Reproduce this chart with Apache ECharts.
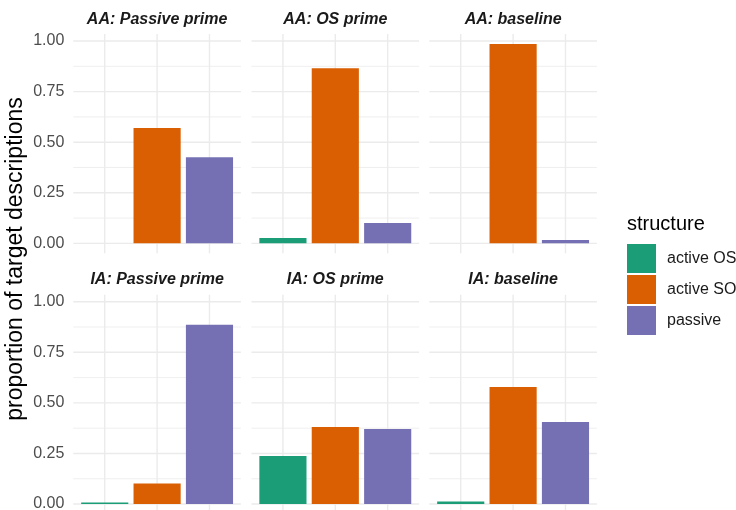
<!DOCTYPE html>
<html>
<head>
<meta charset="utf-8">
<script src="https://cdn.jsdelivr.net/npm/echarts@6/dist/echarts.min.js"></script>
<style>
  html, body { margin: 0; padding: 0; background: #ffffff; }
  #chart { width: 736px; height: 510px; }
</style>
</head>
<body>
<div id="chart"></div>
<script>
// Facet panels (row-major: AA row, then IA row)
const facets = ['AA: Passive prime', 'AA: OS prime', 'AA: baseline',
                'IA: Passive prime', 'IA: OS prime', 'IA: baseline'];
const structures = ['active OS', 'active SO', 'passive'];

// Proportion of target descriptions per facet, one array per structure
const activeOS = [0.000, 0.026, 0.000, 0.008, 0.237, 0.012];
const activeSO = [0.570, 0.866, 0.985, 0.101, 0.381, 0.579];
const passive  = [0.426, 0.100, 0.016, 0.886, 0.371, 0.406];

// Axis breaks
const yBreaks = [0, 0.25, 0.5, 0.75, 1.0];
const yMinorBreaks = [0.125, 0.375, 0.625, 0.875];
const xBreaks = [1, 2, 3];

const palette = ['#1B9E77', '#D95F02', '#7570B3'];
const valuesByStructure = [activeOS, activeSO, passive];

// Layout
const FONT = "'Liberation Sans', Arial, Helvetica, sans-serif";
const colLeft = [73.3, 251.5, 429.3];
const rowTop = [34.1, 294.8];
const panelW = 167.6;
const panelH = 219.2;
const gridColor = '#EBEBEB';
const majorWidth = 1.4;
const minorWidth = 0.8;

// Continuous scale padded by 5% of the data range, discrete by 0.6 units
const dataMax = Math.max(...activeOS, ...activeSO, ...passive);
const yMin = -0.05 * dataMax;
const yMax = dataMax * 1.05;
const xMin = 1 - 0.6;
const xMax = structures.length + 0.6;
const barPx = 0.9 * panelW / (xMax - xMin);

// Panel grid lines, placed through the panel's own scales
function gridLineSeries(i, values, vertical, width) {
  return {
    type: 'custom', xAxisIndex: i, yAxisIndex: i, silent: true, z: 1,
    animation: false,
    data: values.map(v => vertical ? [v, 0] : [0, v]),
    renderItem: (params, api) => {
      const v = vertical ? api.value(0) : api.value(1);
      const a = vertical ? api.coord([v, yMin]) : api.coord([xMin, v]);
      const b = vertical ? api.coord([v, yMax]) : api.coord([xMax, v]);
      return {
        type: 'line',
        shape: { x1: a[0], y1: a[1], x2: b[0], y2: b[1] },
        style: { stroke: gridColor, lineWidth: width }
      };
    }
  };
}

const grids = [], xAxes = [], yAxes = [], series = [], titles = [];

facets.forEach((name, i) => {
  const row = Math.floor(i / 3), col = i % 3;
  const left = colLeft[col], top = rowTop[row];
  grids.push({ left, top, width: panelW, height: panelH, containLabel: false, outerBoundsMode: 'none' });

  xAxes.push({
    type: 'value', gridIndex: i, min: xMin, max: xMax,
    axisLine: { show: false }, axisTick: { show: false },
    axisLabel: { show: false }, splitLine: { show: false }
  });

  yAxes.push({
    type: 'value', gridIndex: i, min: yMin, max: yMax, position: 'left',
    axisLine: { show: false }, axisTick: { show: false },
    axisLabel: {
      show: col === 0, customValues: yBreaks, margin: 9,
      color: '#4D4D4D', fontSize: 16, fontFamily: FONT,
      formatter: v => Number(v).toFixed(2)
    },
    splitLine: { show: false }
  });

  series.push(gridLineSeries(i, yMinorBreaks, false, minorWidth));
  series.push(gridLineSeries(i, yBreaks, false, majorWidth));
  series.push(gridLineSeries(i, xBreaks, true, majorWidth));

  structures.forEach((s, k) => {
    series.push({
      type: 'bar', name: s, xAxisIndex: i, yAxisIndex: i, z: 2,
      barWidth: barPx, barGap: '-100%',
      itemStyle: { color: palette[k] },
      emphasis: { disabled: true },
      animation: false,
      data: [[xBreaks[k], valuesByStructure[k][i]]]
    });
  });

  titles.push({
    text: name, left: left + panelW / 2, top: top - 23, textAlign: 'center', padding: 0,
    textStyle: { fontFamily: FONT, fontSize: 16, fontWeight: 'bold', fontStyle: 'italic', color: '#1A1A1A' }
  });
});

titles.push({
  text: 'structure', left: 627, top: 214, padding: 0,
  textStyle: { fontFamily: FONT, fontSize: 20, fontWeight: 'normal', color: '#000000' }
});

const chart = echarts.init(document.getElementById('chart'), null, { renderer: 'canvas' });
chart.setOption({
  animation: false,
  backgroundColor: '#ffffff',
  title: titles,
  grid: grids,
  xAxis: xAxes,
  yAxis: yAxes,
  series: series,
  legend: {
    data: structures, orient: 'vertical', left: 627, top: 244, padding: 0,
    icon: 'rect', itemWidth: 29, itemHeight: 29, itemGap: 2,
    textStyle: { fontFamily: FONT, fontSize: 16, color: '#1A1A1A', padding: [0, 0, 0, 6] }
  },
  graphic: [{
    type: 'text', x: 16, y: 259, rotation: Math.PI / 2,
    style: {
      text: 'proportion of target descriptions', fill: '#000000',
      font: '23px ' + FONT, textAlign: 'center', textVerticalAlign: 'middle'
    }
  }]
});
</script>
</body>
</html>
